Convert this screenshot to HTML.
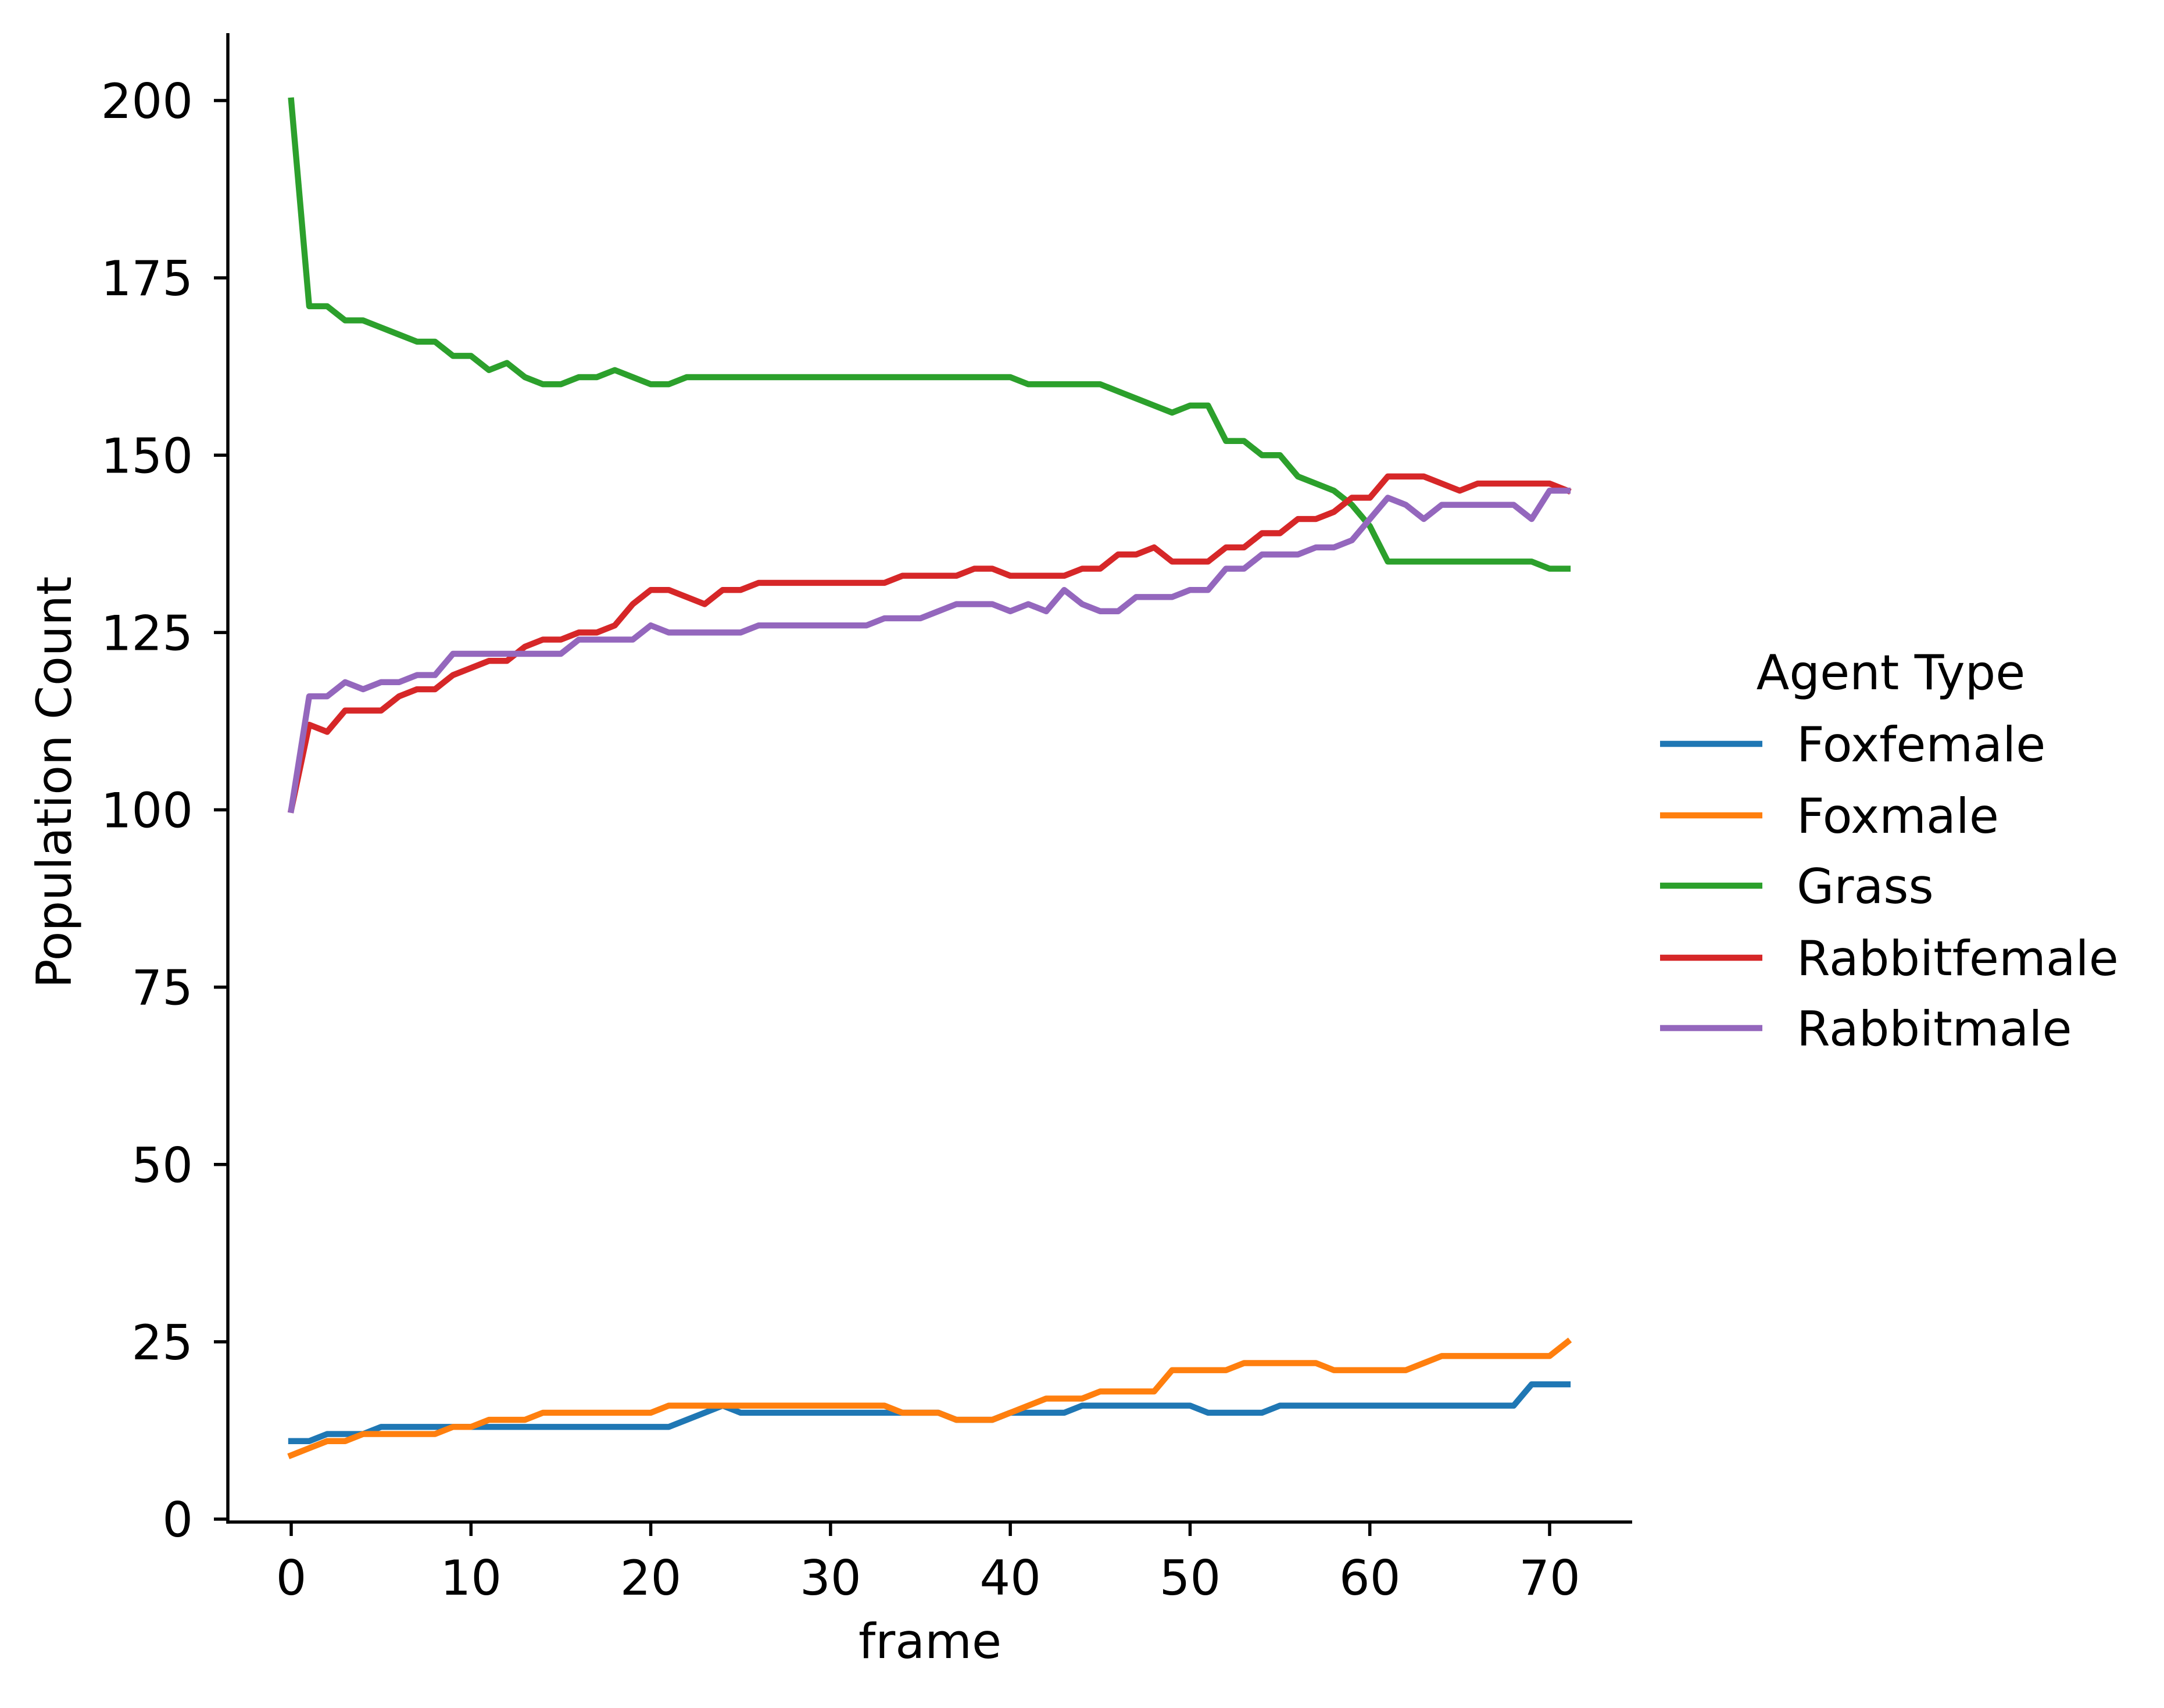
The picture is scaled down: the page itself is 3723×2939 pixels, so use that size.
<!DOCTYPE html>
<html><head><meta charset="utf-8"><style>
html,body{margin:0;padding:0;background:#fff;}
svg text{font-family:"DejaVu Sans","Liberation Sans",sans-serif;fill:#000;}
</style></head><body>
<svg id="chart" width="3723" height="2934" viewBox="0 0 3723 2934" xmlns="http://www.w3.org/2000/svg">
<rect width="3723" height="2934" fill="#fff"/>
<g id="lines"></g>
<g id="axes"></g>
<g id="legend"></g>
</svg>
<script>
const frames = Array.from({length:72},(_,i)=>i);
const grass = [200,171,171,169,169,168,167,166,166,164,164,162,163,161,160,160,161,161,162,161,160,160,161,161,161,161,161,161,161,161,161,161,161,161,161,161,161,161,161,161,161,160,160,160,160,160,159,158,157,156,157,157,152,152,150,150,147,146,145,143,140,135,135,135,135,135,135,135,135,135,134,134];
const rabbitFemale = [100,112,111,114,114,114,116,117,117,119,120,121,121,123,124,124,125,125,126,129,131,131,130,129,131,131,132,132,132,132,132,132,132,132,133,133,133,133,134,134,133,133,133,133,134,134,136,136,137,135,135,135,137,137,139,139,141,141,142,144,144,147,147,147,146,145,146,146,146,146,146,145];
const rabbitMale = [100,116,116,118,117,118,118,119,119,122,122,122,122,122,122,122,124,124,124,124,126,125,125,125,125,125,126,126,126,126,126,126,126,127,127,127,128,129,129,129,128,129,128,131,129,128,128,130,130,130,131,131,134,134,136,136,136,137,137,138,141,144,143,141,143,143,143,143,143,141,145,145];
const foxFemale = [11,11,12,12,12,13,13,13,13,13,13,13,13,13,13,13,13,13,13,13,13,13,14,15,16,15,15,15,15,15,15,15,15,15,15,15,15,14,14,14,15,15,15,15,16,16,16,16,16,16,16,15,15,15,15,16,16,16,16,16,16,16,16,16,16,16,16,16,16,19,19,19];
const foxMale = [9,10,11,11,12,12,12,12,12,13,13,14,14,14,15,15,15,15,15,15,15,16,16,16,16,16,16,16,16,16,16,16,16,16,15,15,15,14,14,14,15,16,17,17,17,18,18,18,18,21,21,21,21,22,22,22,22,22,21,21,21,21,21,22,23,23,23,23,23,23,23,25];
const seriesNames = ["Foxfemale","Foxmale","Grass","Rabbitfemale","Rabbitmale"];
const seriesData = [foxFemale, foxMale, grass, rabbitFemale, rabbitMale];
const seriesColors = ["#1f77b4","#ff7f0e","#2ca02c","#d62728","#9467bd"];
const xTicks = [0,10,20,30,40,50,60,70];
const yTicks = [0,25,50,75,100,125,150,175,200];

const NS="http://www.w3.org/2000/svg";
const X0=501, X70=2666, Y0=2614, Y200=173;
const sx=v=>X0+(X70-X0)*v/70;
const sy=v=>Y0+(Y200-Y0)*v/200;
function mk(tag,attrs,parent){const e=document.createElementNS(NS,tag);for(const k in attrs)e.setAttribute(k,attrs[k]);parent.appendChild(e);return e;}
const gl=document.getElementById('lines'), ga=document.getElementById('axes'), gleg=document.getElementById('legend');
const FS=83;

seriesData.forEach((d,i)=>{
  const p=mk('polyline',{points:d.map((v,j)=>sx(frames[j])+','+sy(v)).join(' '),fill:'none',stroke:seriesColors[i],'stroke-width':10.4,'stroke-linejoin':'round','stroke-linecap':'square'},gl);
  
  
});

const L=392,R=2808,T=57,B=2619;
let s=mk('line',{x1:L,y1:T,x2:L,y2:B+2.7,stroke:'#000','stroke-width':5.5},ga);


s=mk('line',{x1:L-2.7,y1:B,x2:R,y2:B,stroke:'#000','stroke-width':5.5},ga);



xTicks.forEach(t=>{
  const x=sx(t);
  const tk=mk('line',{x1:x,y1:B,x2:x,y2:B+24,stroke:'#000','stroke-width':5.5},ga);
  
  
  const tx=mk('text',{x:x,y:2744,'font-size':FS,'text-anchor':'middle'},ga);
  tx.textContent=t;
  
  
});
yTicks.forEach(t=>{
  const y=sy(t);
  const tk=mk('line',{x1:L-24,y1:y,x2:L,y2:y,stroke:'#000','stroke-width':5.5},ga);
  
  
  const tx=mk('text',{x:L-60,y:y+30,'font-size':FS,'text-anchor':'end'},ga);
  tx.textContent=t;
  
  
});
let xl=mk('text',{x:(L+R)/2,y:2853,'font-size':FS,'text-anchor':'middle'},ga);
xl.textContent='frame';


let yl=mk('text',{x:0,y:0,'font-size':FS,'text-anchor':'middle',transform:'translate(122,1346) rotate(-90)'},ga);
yl.textContent='Population Count';



let lt=mk('text',{x:3253,y:1186,'font-size':FS,'text-anchor':'middle'},gleg);
lt.textContent='Agent Type';


const legY=[1280,1403,1524,1648,1769];
seriesNames.forEach((n,i)=>{
  const g=mk('g',{},gleg);
  
  
  mk('line',{x1:2856,y1:legY[i],x2:3032,y2:legY[i],stroke:seriesColors[i],'stroke-width':10.4},g);
  const t=mk('text',{x:3091,y:legY[i]+30,'font-size':FS},g);
  t.textContent=n;
});
</script>
</body></html>
